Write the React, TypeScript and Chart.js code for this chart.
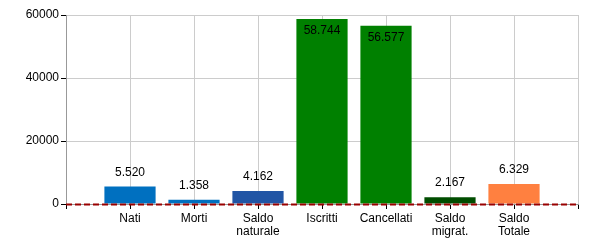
import React, { useEffect, useRef } from "react";
import { Chart, registerables } from "chart.js";

Chart.register(...registerables);

const categories: (string | string[])[] = [
  "",
  "Nati",
  "Morti",
  ["Saldo", "naturale"],
  "Iscritti",
  "Cancellati",
  ["Saldo", "migrat."],
  ["Saldo", "Totale"],
  "",
];
const values: (number | null)[] = [null, 5520, 1358, 4162, 58744, 56577, 2167, 6329, null];
const barColors = ["#000000", "#0070C0", "#0070C0", "#2155A5", "#008000", "#008000", "#004D00", "#FF8040", "#000000"];
const yTicks = [0, 20000, 40000, 60000];

const FONT = "'Liberation Sans', Arial, sans-serif";

function fmt(n: number): string {
  const s = Math.round(n).toString();
  return s.replace(/\B(?=(\d{3})+(?!\d))/g, ".");
}

const zeroLinePlugin = {
  id: "zeroLine",
  afterDatasetsDraw(chart: any) {
    const { ctx, chartArea, scales } = chart;
    const y = Math.round(scales.y.getPixelForValue(0)) + 0.5;
    ctx.save();
    ctx.strokeStyle = "#990000";
    ctx.lineWidth = 2;
    ctx.setLineDash([6, 3]);
    ctx.beginPath();
    ctx.moveTo(chartArea.left, y);
    ctx.lineTo(chartArea.right, y);
    ctx.stroke();
    ctx.restore();
  },
};

const labelPlugin = {
  id: "barLabels",
  afterDatasetsDraw(chart: any) {
    const { ctx } = chart;
    const meta = chart.getDatasetMeta(0);
    ctx.save();
    ctx.font = `12px ${FONT}`;
    ctx.fillStyle = "#000";
    ctx.textAlign = "center";
    ctx.textBaseline = "middle";
    meta.data.forEach((bar: any, i: number) => {
      const v = values[i];
      if (v == null) return;
      const h = bar.base - bar.y;
      const ty = h > 40 ? bar.y + 12 : bar.y - 14;
      ctx.fillText(fmt(v), bar.x, ty);
    });
    ctx.restore();
  },
};

export default function App() {
  const ref = useRef<HTMLCanvasElement | null>(null);
  useEffect(() => {
    document.body.style.margin = "0";
    if (!ref.current) return;
    const chart = new Chart(ref.current, {
      type: "bar",
      data: {
        labels: categories,
        datasets: [
          {
            data: values,
            backgroundColor: barColors,
            borderWidth: 0,
            barPercentage: 1,
            categoryPercentage: 0.8,
          },
        ],
      },
      options: {
        animation: false,
        responsive: false,
        maintainAspectRatio: false,
        layout: { padding: { left: 0, right: 22, top: 15, bottom: 0 } },
        plugins: { legend: { display: false }, tooltip: { enabled: false } },
        scales: {
          x: {
            type: "category",
            offset: false,
            grid: { offset: false, color: "#CCCCCC", tickColor: "#000", tickLength: 5, drawTicks: true },
            border: { color: "#999999" },
            ticks: {
              color: "#000",
              font: { family: FONT, size: 12, lineHeight: 1.1 },
              padding: 3,
              maxRotation: 0,
              autoSkip: false,
            },
            afterFit(scale: any) {
              scale.height = 46;
            },
          },
          y: {
            min: 0,
            max: 60000,
            afterBuildTicks(scale: any) {
              scale.ticks = yTicks.map((v) => ({ value: v }));
            },
            grid: { color: "#CCCCCC", tickColor: "#000", tickLength: 5 },
            border: { color: "#999999" },
            ticks: {
              color: "#000",
              font: { family: FONT, size: 12 },
              padding: 2,
              callback: (v: any) => String(v),
            },
            afterFit(scale: any) {
              scale.width = 66;
            },
          },
        },
      },
      plugins: [zeroLinePlugin, labelPlugin],
    } as any);
    return () => chart.destroy();
  }, []);
  return <canvas ref={ref} width={600} height={250} style={{ display: "block" }} />;
}
